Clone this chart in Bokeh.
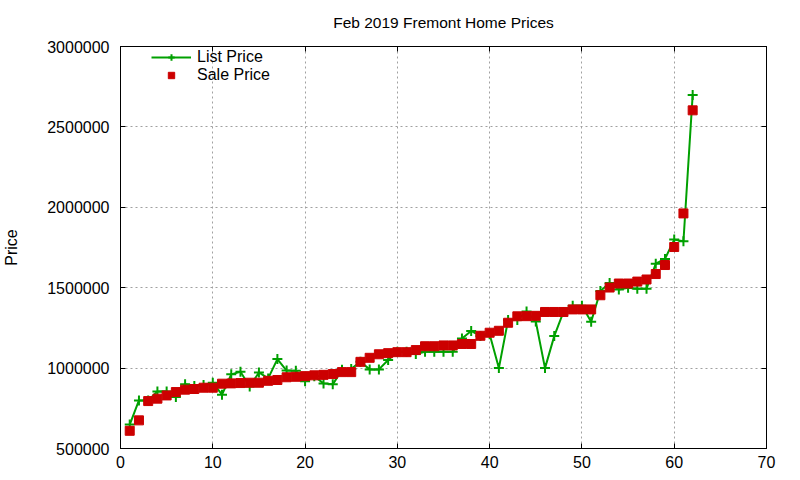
from bokeh.plotting import figure
from bokeh.models import (Range1d, FixedTicker, LinearAxis, BasicTickFormatter, Legend,
                          CustomLabelingPolicy, CustomJSTickFormatter)
from bokeh.embed import file_html
from bokeh.resources import INLINE

# ---- data ----
house_index = list(range(1, 63))
list_price = [
    649000, 799000, 799000, 855000, 855000, 820000, 899000, 889000, 895000, 909000,
    835000, 961000, 977000, 885000, 973000, 936000, 1056000, 985000, 983000, 918000,
    949000, 905000, 899000, 989000, 995000, 1039000, 992000, 992000, 1050000, 1101000,
    1101000, 1087000, 1101000, 1101000, 1101000, 1101000, 1184000, 1231000, 1199000, 1210000,
    1000000, 1299000, 1299000, 1352000, 1290000, 1000000, 1199000, 1349000, 1388000, 1388000,
    1288000, 1479000, 1529000, 1489000, 1499000, 1494000, 1494000, 1649000, 1679000, 1799000,
    1789000, 2699000,
]
sale_price = [
    610000, 675000, 795000, 810000, 830000, 851000, 866000, 870000, 878000, 878000,
    903000, 905000, 907000, 909000, 909000, 921000, 926000, 943000, 946000, 950000,
    955000, 958000, 963000, 975000, 975000, 1039000, 1064000, 1086000, 1093000, 1099000,
    1099000, 1112000, 1136000, 1136000, 1141000, 1141000, 1150000, 1150000, 1201000, 1220000,
    1232000, 1282000, 1322000, 1323000, 1325000, 1349000, 1349000, 1349000, 1365000, 1365000,
    1365000, 1453000, 1501000, 1526000, 1526000, 1538000, 1551000, 1585000, 1641000, 1753000,
    1962000, 2603000,
]
x_ticks = [0, 10, 20, 30, 40, 50, 60, 70]
y_ticks = [500000, 1000000, 1500000, 2000000, 2500000, 3000000]

FONT = "Liberation Sans"
GREEN = "#00a000"
RED = "#cc0000"

p = figure(width=800, height=480, output_backend="svg", toolbar_location=None,
           x_range=Range1d(0, 70), y_range=Range1d(500000, 3000000),
           min_border_left=119, min_border_right=34, min_border_top=46, min_border_bottom=32,
           title="Feb 2019 Fremont Home Prices")

p.title.align = "center"
p.title.vertical_align = "top"
p.title.text_font = FONT
p.title.text_font_size = "15.5px"
p.title.text_font_style = "normal"
p.title.text_color = "black"
p.title.standoff = 27

p.outline_line_color = "black"
p.outline_line_width = 1
p.background_fill_color = "white"
p.border_fill_color = "white"

# axes
for ax in (p.xaxis[0], p.yaxis[0]):
    ax.major_label_text_font = FONT
    ax.major_label_text_font_size = "16px"
    ax.major_label_text_color = "black"
    ax.major_tick_in = 5
    ax.major_tick_out = 0
    ax.minor_tick_in = 0
    ax.minor_tick_out = 0
    ax.axis_line_color = "black"
    ax.major_tick_line_color = "black"

p.xaxis.ticker = FixedTicker(ticks=x_ticks)
p.yaxis.ticker = FixedTicker(ticks=y_ticks)
p.yaxis.formatter = BasicTickFormatter(use_scientific=False)
p.xaxis.major_label_standoff = 7
p.yaxis.major_label_standoff = 11
p.yaxis.axis_label = "Price"
p.yaxis.axis_label_text_font = FONT
p.yaxis.axis_label_text_font_size = "16px"
p.yaxis.axis_label_text_font_style = "normal"
p.yaxis.axis_label_text_color = "black"
p.yaxis.axis_label_standoff = 24

# mirror ticks (no labels)
def mirror_axis(ticks):
    return LinearAxis(ticker=FixedTicker(ticks=ticks),
                      formatter=CustomJSTickFormatter(code="return ''"),
                      major_label_policy=CustomLabelingPolicy(code="return new Set()"),
                      major_tick_in=5, major_tick_out=0, minor_tick_in=0, minor_tick_out=0,
                      major_label_standoff=0, axis_line_color="black")

p.add_layout(mirror_axis(x_ticks), "above")
p.add_layout(mirror_axis(y_ticks), "right")

# grid
p.xgrid.ticker = FixedTicker(ticks=x_ticks)
p.ygrid.ticker = FixedTicker(ticks=y_ticks)
for g in (p.xgrid[0], p.ygrid[0]):
    g.grid_line_color = "#a0a0a0"
    g.grid_line_dash = "2 3"
    g.grid_line_width = 1

# series
l1 = p.line(house_index, list_price, line_color=GREEN, line_width=2)
m1 = p.scatter(house_index, list_price, marker="cross", size=10, line_color=GREEN, line_width=2)
s1 = p.scatter(house_index, sale_price, marker="square", size=9, fill_color=RED, line_color=RED)

legend = Legend(items=[("List Price", [l1, m1]), ("Sale Price", [s1])],
                location=(29, 362), orientation="vertical",
                glyph_width=40, glyph_height=16, label_height=16, label_standoff=6,
                spacing=0, padding=2, margin=0,
                label_text_font=FONT, label_text_font_size="16px", label_text_color="black",
                background_fill_alpha=0, border_line_alpha=0)
p.add_layout(legend, "center")

open("out.html", "w").write(file_html(p, INLINE))
